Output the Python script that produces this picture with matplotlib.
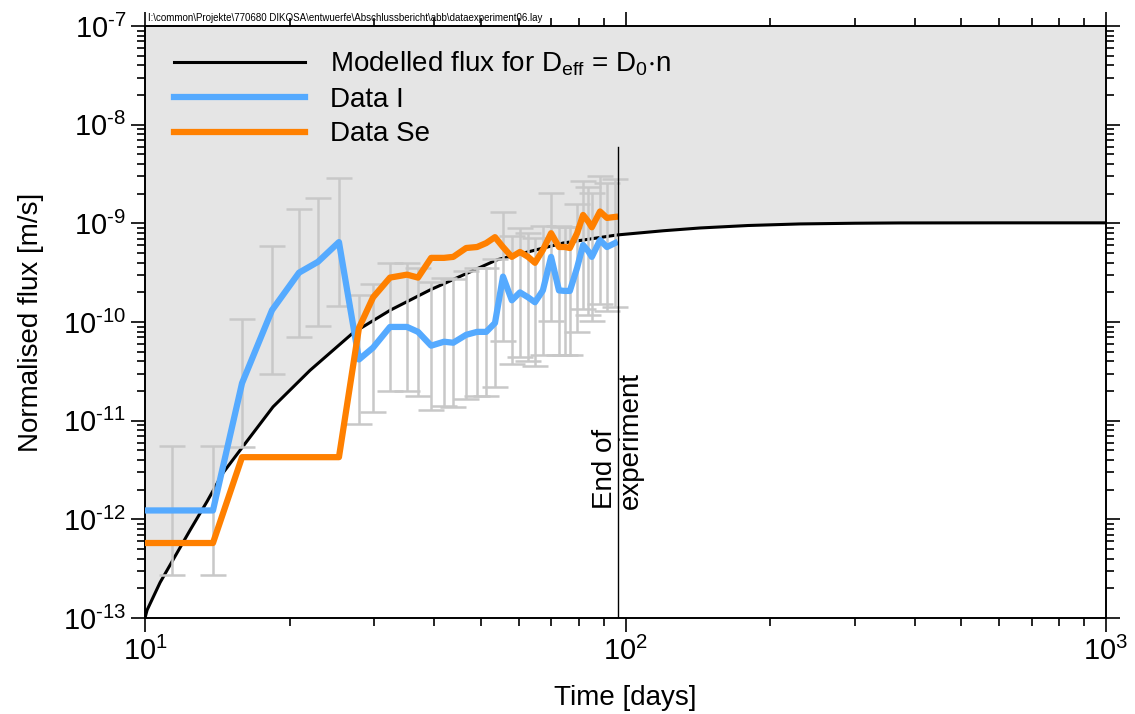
import numpy as np
import matplotlib.pyplot as plt
from matplotlib.ticker import FixedLocator, NullFormatter

plt.rcParams['font.family'] = ['Liberation Sans', 'DejaVu Sans']
plt.rcParams['mathtext.fontset'] = 'custom'
plt.rcParams['mathtext.rm'] = 'Liberation Sans'
plt.rcParams['mathtext.it'] = 'Liberation Sans'
plt.rcParams['mathtext.default'] = 'regular'
plt.rcParams['axes.unicode_minus'] = False

# modelled flux for D_eff = D_0*n (log10 of flux)
model_t = [10, 10.1, 10.75, 11.44, 12.41, 13.46, 14.53, 15.77, 18.47, 22.05, 27.1,
           32.4, 39.2, 54.0, 74.1, 96.0, 120, 143, 180, 231, 300, 372, 600, 1000]
model_logf = [-13.0, -12.92, -12.64, -12.41, -12.11, -11.82, -11.53, -11.30, -10.86, -10.49,
              -10.11, -9.88, -9.675, -9.37, -9.20, -9.118, -9.075, -9.047, -9.022, -9.006,
              -8.999, -8.996, -8.995, -8.995]

# measured data, time in days
t = [9.0, 11.38, 13.85, 15.92, 18.38, 20.92, 22.91, 25.33, 27.88, 29.83,
     32.35, 35.1, 37.0, 39.4, 41.9, 43.8, 46.6, 49.1, 51.3, 53.5,
     55.6, 58.0, 60.3, 62.7, 64.8, 67.3, 70.0, 72.7, 74.8, 76.6,
     79.3, 81.6, 83.6, 85.1, 88.5, 91.5, 95.1]
logf_I = [-11.91, -11.91, -11.91, -10.62, -9.88, -9.50, -9.39, -9.19, -10.38, -10.26,
          -10.05, -10.05, -10.10, -10.24, -10.20, -10.21, -10.13, -10.10, -10.10, -10.01,
          -9.54, -9.78, -9.70, -9.75, -9.80, -9.68, -9.34, -9.68, -9.685, -9.685,
          -9.45, -9.22, -9.28, -9.34, -9.17, -9.24, -9.20]
logf_Se = [-12.24, -12.24, -12.24, -11.37, -11.37, -11.37, -11.37, -11.37, -10.06, -9.75,
           -9.55, -9.52, -9.55, -9.35, -9.35, -9.34, -9.25, -9.24, -9.20, -9.14,
           -9.24, -9.34, -9.29, -9.34, -9.40, -9.27, -9.10, -9.24, -9.24, -9.25,
           -9.10, -8.915, -8.98, -9.04, -8.88, -8.945, -8.935]
err_dex = 0.65          # uncertainty of Data I, in decades
t_end = 96.3            # end of experiment [days]

y_exp = [-13, -12, -11, -10, -9, -8, -7]
x_exp = [1, 2, 3]

f_model = 10.0 ** np.array(model_logf)
f_I = 10.0 ** np.array(logf_I)
f_Se = 10.0 ** np.array(logf_Se)
err_lo = f_I - f_I / 10 ** err_dex
err_hi = f_I * 10 ** err_dex - f_I

fig = plt.figure(figsize=(11.35, 7.14), dpi=100)
ax = fig.add_axes([145 / 1135, 1 - 618 / 714, 961 / 1135, 592 / 714])

ax.fill_between(model_t, f_model, 1e-7, color='#e5e5e5', lw=0, zorder=1)
ax.plot(model_t, f_model, color='black', lw=2.2, zorder=2,
        label=r'Modelled flux for D$_{eff}$ = D$_0$$\cdot$n')
ax.errorbar(t, f_I, yerr=[err_lo, err_hi], fmt='none', ecolor='#c8c8c8',
            elinewidth=1.8, capsize=9.5, capthick=1.8, zorder=3)
ax.plot(t, f_I, color='#55aaff', lw=4.5, zorder=4, label='Data I')
ax.plot(t, f_Se, color='#ff8000', lw=4.5, zorder=5, label='Data Se')

ax.plot([t_end, t_end], [10 ** -8.23, 1e-13], color='black', lw=1, zorder=6)
ax.text(t_end * 1.003, 10 ** -11.9, 'End of\nexperiment', rotation=90,
        ha='center', va='bottom', multialignment='left', fontsize=20, linespacing=1.0)

ax.set_xscale('log')
ax.set_yscale('log')
ax.set_xlim(10, 1000)
ax.set_ylim(1e-13, 1e-7)

y_major = [10.0 ** e for e in y_exp]
ax.yaxis.set_major_locator(FixedLocator(y_major))
ax.set_yticklabels([r'$10^{\text{%d}}$' % e for e in y_exp])
ax.set_xticks([10.0 ** e for e in x_exp])
ax.set_xticklabels([r'$10^{%d}$' % e for e in x_exp])
minor = [m * d for d in y_major[:-1] for m in range(2, 10)]
ax.yaxis.set_minor_locator(FixedLocator(minor))
ax.yaxis.set_minor_formatter(NullFormatter())
ax.xaxis.set_minor_formatter(NullFormatter())
ax.tick_params(which='both', direction='out', top=True, right=True, labelsize=21, width=1.2)
ax.tick_params(which='major', length=10)
ax.tick_params(which='minor', length=6)
for s in ax.spines.values():
    s.set_linewidth(1.4)

ax.set_xlabel('Time [days]', fontsize=20, labelpad=14)
ax.set_ylabel('Normalised flux [m/s]', fontsize=20, labelpad=14)

ax.legend(loc='upper left', frameon=False, fontsize=20, handlelength=4.7,
          handletextpad=0.9, labelspacing=0.31, borderaxespad=0.3,
          bbox_to_anchor=(0.01, 0.993))

fig.text(148 / 1135, 1 - 21 / 714,
         r'I:\common\Projekte\770680 DIKOSA\entwuerfe\Abschlussbericht\abb\dataexperiment06.lay',
         fontsize=7, va='baseline')

fig.savefig('out.png', dpi=100)
